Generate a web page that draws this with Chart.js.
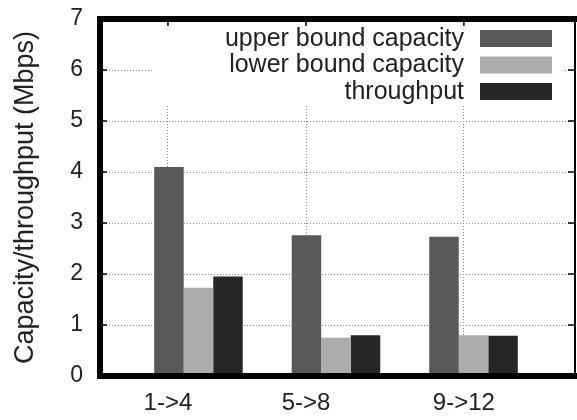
<!DOCTYPE html>
<html>
<head>
<meta charset="utf-8">
<script src="https://cdn.jsdelivr.net/npm/chart.js@4/dist/chart.umd.min.js"></script>
<style>
  html, body { margin: 0; padding: 0; background: #fff; }
  #wrap { width: 577px; height: 420px; }
</style>
</head>
<body>
<div id="wrap"><canvas id="c" width="577" height="420"></canvas></div>
<script>
// Link groups and measured values (Mbps)
const categories = ['1->4', '5->8', '9->12'];
const upperBound = [4.10, 2.76, 2.73];
const lowerBound = [1.73, 0.75, 0.80];
const throughput = [1.95, 0.80, 0.79];
const seriesNames = ['upper bound capacity', 'lower bound capacity', 'throughput'];
const yTickValues = [0, 1, 2, 3, 4, 5, 6, 7];

const FONT = "'Liberation Sans', Arial, sans-serif";
const colors = ['#595959', '#acacac', '#262626'];

const toPoints = arr => arr.map((v, i) => ({ x: i, y: v }));

// where the category labels sit along the x axis
const labelOffsets = [-0.222, 0.782, 1.93];

// white legend box with labels right-aligned next to the colour swatches
const legendPlugin = {
  id: 'boxLegend',
  afterDatasetsDraw(chart) {
    const ctx = chart.ctx;
    ctx.save();
    ctx.fillStyle = '#fff';
    ctx.fillRect(152, 22, 413, 82);
    ctx.font = '25px ' + FONT;
    ctx.textAlign = 'right';
    ctx.textBaseline = 'middle';
    chart.data.datasets.forEach((ds, i) => {
      const y = 38 + i * 26.5;
      ctx.fillStyle = '#222';
      ctx.fillText(ds.label, 464, y + 1);
      ctx.fillStyle = ds.backgroundColor;
      ctx.fillRect(480, y - 8, 72, 17);
    });
    ctx.restore();
  }
};

// heavy frame round the plot area with small inward tick marks
const framePlugin = {
  id: 'frame',
  afterDraw(chart) {
    const { ctx, chartArea: a, scales } = chart;
    ctx.save();
    ctx.strokeStyle = '#000';
    ctx.lineWidth = 1.5;
    yTickValues.forEach(v => {
      const y = scales.y.getPixelForValue(v);
      ctx.beginPath();
      ctx.moveTo(a.left, y); ctx.lineTo(a.left + 7, y);
      ctx.moveTo(a.right, y); ctx.lineTo(a.right - 7, y);
      ctx.stroke();
    });
    labelOffsets.forEach(v => {
      const x = scales.x.getPixelForValue(v);
      ctx.beginPath();
      ctx.moveTo(x, a.top); ctx.lineTo(x, a.top + 7);
      ctx.stroke();
    });
    ctx.lineCap = 'square';
    ctx.lineWidth = 6;
    ctx.beginPath();
    ctx.moveTo(a.left, a.top); ctx.lineTo(a.left, a.bottom); ctx.lineTo(a.right, a.bottom);
    ctx.moveTo(a.left, a.top); ctx.lineTo(a.right, a.top);
    ctx.stroke();
    ctx.lineWidth = 2;
    ctx.beginPath();
    ctx.moveTo(a.right, a.top); ctx.lineTo(a.right, a.bottom);
    ctx.stroke();
    ctx.restore();
  }
};

const gridStyle = { color: '#8a8a8a', lineWidth: 1, drawTicks: false, offset: false };

new Chart(document.getElementById('c'), {
  type: 'bar',
  data: {
    datasets: [
      { label: seriesNames[0], data: toPoints(upperBound), backgroundColor: colors[0] },
      { label: seriesNames[1], data: toPoints(lowerBound), backgroundColor: colors[1] },
      { label: seriesNames[2], data: toPoints(throughput), backgroundColor: colors[2] }
    ]
  },
  options: {
    responsive: false,
    animation: false,
    layout: { padding: { top: 19, right: 2, left: 0, bottom: 0 } },
    datasets: { bar: { categoryPercentage: 0.644, barPercentage: 1.0, borderWidth: 0 } },
    plugins: { legend: { display: false }, tooltip: { enabled: false } },
    scales: {
      x: {
        type: 'linear',
        offset: false,
        min: -0.716,
        max: 2.738,
        border: { display: false, dash: [1, 2] },
        grid: gridStyle,
        afterBuildTicks: s => { s.ticks = labelOffsets.map(v => ({ value: v })); },
        afterFit: s => { s.height = 44; s.paddingLeft = 0; s.paddingRight = 0; },
        ticks: {
          padding: 13,
          color: '#222',
          font: { family: FONT, size: 24 },
          maxRotation: 0,
          autoSkip: false,
          callback: (v, i) => categories[i]
        }
      },
      y: {
        min: 0,
        max: 7,
        border: { display: false, dash: [1, 2] },
        grid: gridStyle,
        afterBuildTicks: s => { s.ticks = yTickValues.map(v => ({ value: v })); },
        afterFit: s => { s.width = 100; s.paddingTop = 0; s.paddingBottom = 0; },
        ticks: {
          padding: 17,
          color: '#222',
          font: { family: FONT, size: 23 }
        },
        title: {
          display: true,
          text: 'Capacity/throughput (Mbps)',
          color: '#222',
          font: { family: FONT, size: 27 },
          padding: { top: 9, bottom: 0 }
        }
      }
    }
  },
  plugins: [legendPlugin, framePlugin]
});
</script>
</body>
</html>
